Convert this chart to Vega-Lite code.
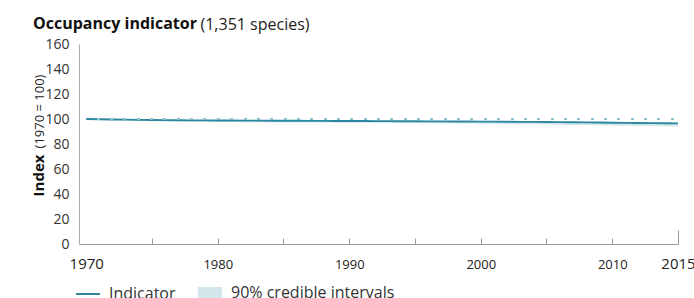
{
  "$schema": "https://vega.github.io/schema/vega-lite/v6.json",
  "width": 599,
  "height": 200,
  "autosize": {"type": "none"},
  "padding": {"left": 79, "top": 44, "right": 16, "bottom": 54},
  "background": "white",
  "config": {
    "view": {"stroke": null},
    "font": "Open Sans"
  },
  "title": {
    "text": "Occupancy indicator",
    "anchor": "start",
    "frame": "group",
    "font": "Open Sans",
    "fontSize": 16,
    "fontWeight": "bold",
    "color": "#111111",
    "dx": -46,
    "dy": 16,
    "offset": 0
  },
  "data": {
    "values": [
      {"year": 1970, "value": 100.0, "lower": 99.9, "upper": 100.1},
      {"year": 1971, "value": 99.8, "lower": 99.3, "upper": 99.9},
      {"year": 1972, "value": 99.6, "lower": 99.0, "upper": 99.8},
      {"year": 1973, "value": 99.5, "lower": 98.8, "upper": 99.7},
      {"year": 1974, "value": 99.3, "lower": 98.5, "upper": 99.5},
      {"year": 1975, "value": 99.2, "lower": 98.3, "upper": 99.4},
      {"year": 1976, "value": 99.1, "lower": 98.1, "upper": 99.3},
      {"year": 1977, "value": 99.0, "lower": 98.0, "upper": 99.2},
      {"year": 1978, "value": 98.9, "lower": 97.9, "upper": 99.1},
      {"year": 1979, "value": 98.9, "lower": 97.8, "upper": 99.1},
      {"year": 1980, "value": 98.8, "lower": 97.7, "upper": 99.0},
      {"year": 1981, "value": 98.8, "lower": 97.6, "upper": 99.0},
      {"year": 1982, "value": 98.7, "lower": 97.5, "upper": 98.9},
      {"year": 1983, "value": 98.7, "lower": 97.5, "upper": 98.9},
      {"year": 1984, "value": 98.6, "lower": 97.4, "upper": 98.8},
      {"year": 1985, "value": 98.6, "lower": 97.3, "upper": 98.8},
      {"year": 1986, "value": 98.6, "lower": 97.3, "upper": 98.8},
      {"year": 1987, "value": 98.5, "lower": 97.2, "upper": 98.7},
      {"year": 1988, "value": 98.5, "lower": 97.2, "upper": 98.7},
      {"year": 1989, "value": 98.4, "lower": 97.1, "upper": 98.6},
      {"year": 1990, "value": 98.4, "lower": 97.0, "upper": 98.6},
      {"year": 1991, "value": 98.4, "lower": 97.0, "upper": 98.6},
      {"year": 1992, "value": 98.3, "lower": 96.9, "upper": 98.5},
      {"year": 1993, "value": 98.3, "lower": 96.8, "upper": 98.5},
      {"year": 1994, "value": 98.2, "lower": 96.7, "upper": 98.4},
      {"year": 1995, "value": 98.2, "lower": 96.7, "upper": 98.4},
      {"year": 1996, "value": 98.1, "lower": 96.6, "upper": 98.3},
      {"year": 1997, "value": 98.1, "lower": 96.5, "upper": 98.3},
      {"year": 1998, "value": 98.0, "lower": 96.4, "upper": 98.2},
      {"year": 1999, "value": 98.0, "lower": 96.3, "upper": 98.2},
      {"year": 2000, "value": 97.9, "lower": 96.2, "upper": 98.1},
      {"year": 2001, "value": 97.9, "lower": 96.1, "upper": 98.1},
      {"year": 2002, "value": 97.8, "lower": 96.0, "upper": 98.0},
      {"year": 2003, "value": 97.7, "lower": 95.9, "upper": 97.9},
      {"year": 2004, "value": 97.7, "lower": 95.8, "upper": 97.9},
      {"year": 2005, "value": 97.6, "lower": 95.7, "upper": 97.8},
      {"year": 2006, "value": 97.5, "lower": 95.5, "upper": 97.7},
      {"year": 2007, "value": 97.4, "lower": 95.3, "upper": 97.6},
      {"year": 2008, "value": 97.3, "lower": 95.2, "upper": 97.5},
      {"year": 2009, "value": 97.2, "lower": 95.0, "upper": 97.4},
      {"year": 2010, "value": 97.0, "lower": 94.8, "upper": 97.3},
      {"year": 2011, "value": 96.9, "lower": 94.7, "upper": 97.2},
      {"year": 2012, "value": 96.8, "lower": 94.5, "upper": 97.1},
      {"year": 2013, "value": 96.7, "lower": 94.4, "upper": 97.0},
      {"year": 2014, "value": 96.6, "lower": 94.2, "upper": 96.9},
      {"year": 2015, "value": 96.5, "lower": 94.1, "upper": 96.8}
    ]
  },
  "layer": [
    {
      "mark": {"type": "area", "opacity": 1},
      "encoding": {
        "x": {
          "field": "year",
          "type": "quantitative",
          "scale": {"domain": [1969.45, 2015], "nice": false, "zero": false},
          "axis": {
            "orient": "bottom",
            "title": null,
            "values": [1970, 1975, 1980, 1985, 1990, 1995, 2000, 2005, 2010, 2015],
            "format": "d",
            "labelExpr": "(datum.value % 10 == 0 || datum.value == 2015) ? datum.label : ''",
            "grid": false,
            "domainColor": "#9a9a9a",
            "domainWidth": 1,
            "tickColor": {"condition": {"test": "datum.value == 1970", "value": "transparent"}, "value": "#9a9a9a"},
            "tickSize": {"condition": {"test": "datum.value == 2015", "value": -14}, "value": -6},
            "tickWidth": 1,
            "labelFont": "Open Sans",
            "labelFontSize": {"condition": {"test": "datum.value == 1970 || datum.value == 2015", "value": 15}, "value": 13},
            "labelColor": "#222222",
            "labelBaseline": "alphabetic",
            "labelPadding": {"condition": {"test": "datum.value == 2015", "value": 38}, "value": 30},
            "labelFlush": false,
            "labelOverlap": false
          }
        },
        "y": {
          "field": "lower",
          "type": "quantitative",
          "scale": {"domain": [0, 160], "nice": false},
          "axis": {
            "orient": "left",
            "values": [0, 20, 40, 60, 80, 100, 120, 140, 160],
            "grid": false,
            "ticks": false,
            "domainColor": "#aaaaaa",
            "domainWidth": 1,
            "labelFont": "Open Sans",
            "labelFontSize": 14,
            "labelColor": "#333333",
            "labelPadding": 10,
            "title": "Index",
            "titleFont": "Open Sans",
            "titleFontSize": 15,
            "titleFontWeight": "bold",
            "titleColor": "#111111",
            "titleAngle": -90,
            "titleAlign": "center",
            "titleBaseline": "alphabetic",
            "titleX": -36,
            "titleY": 131
          }
        },
        "y2": {"field": "upper"},
        "fill": {
          "datum": "90% credible intervals",
          "type": "nominal",
          "scale": {"range": ["#d3e7eb"]},
          "legend": {
            "title": null,
            "orient": "none",
            "direction": "horizontal",
            "legendX": 119,
            "legendY": 237,
            "padding": 0,
            "symbolType": "M-1,-0.5H1V0.5H-1Z",
            "symbolSize": 576,
            "symbolStrokeWidth": 0,
            "symbolOpacity": 1,
            "labelFont": "Open Sans",
            "labelFontSize": 16,
            "labelColor": "#333333",
            "labelOffset": 9,
            "labelLimit": 400
          }
        }
      }
    },
    {
      "mark": {"type": "line", "strokeWidth": 1.8},
      "encoding": {
        "x": {"field": "year", "type": "quantitative", "axis": null},
        "y": {"field": "value", "type": "quantitative", "axis": null},
        "stroke": {
          "datum": "Indicator",
          "type": "nominal",
          "scale": {"range": ["#2b87a0"]},
          "legend": {
            "title": null,
            "orient": "none",
            "direction": "horizontal",
            "legendX": -4,
            "legendY": 237,
            "padding": 0,
            "symbolType": "stroke",
            "symbolSize": 576,
            "symbolStrokeWidth": 2,
            "labelFont": "Open Sans",
            "labelFontSize": 16,
            "labelColor": "#333333",
            "labelOffset": 8,
            "labelLimit": 400
          }
        }
      }
    },
    {
      "mark": {"type": "rule", "color": "#8cc0cf", "strokeWidth": 2, "strokeDash": [2, 11.35], "strokeDashOffset": 2.4, "strokeCap": "butt"},
      "encoding": {
        "x": {
          "datum": 1970,
          "type": "quantitative",
          "axis": {
            "orient": "top",
            "labels": false,
            "ticks": false,
            "domain": false,
            "grid": false,
            "title": "(1,351 species)",
            "titleFont": "Open Sans",
            "titleFontSize": 16,
            "titleFontWeight": "normal",
            "titleColor": "#222222",
            "titleAlign": "left",
            "titleBaseline": "alphabetic",
            "titleAngle": 0,
            "titleX": 121,
            "titleY": -15
          }
        },
        "x2": {"datum": 2015},
        "y": {
          "datum": 100,
          "type": "quantitative",
          "axis": {
            "orient": "left",
            "labels": false,
            "ticks": false,
            "domain": false,
            "grid": false,
            "title": "(1970 = 100)",
            "titleFont": "Open Sans",
            "titleFontSize": 13,
            "titleFontWeight": "normal",
            "titleColor": "#222222",
            "titleAngle": -90,
            "titleAlign": "center",
            "titleBaseline": "alphabetic",
            "titleX": -36,
            "titleY": 67
          }
        }
      }
    }
  ],
  "resolve": {"axis": {"x": "independent", "y": "independent"}}
}
